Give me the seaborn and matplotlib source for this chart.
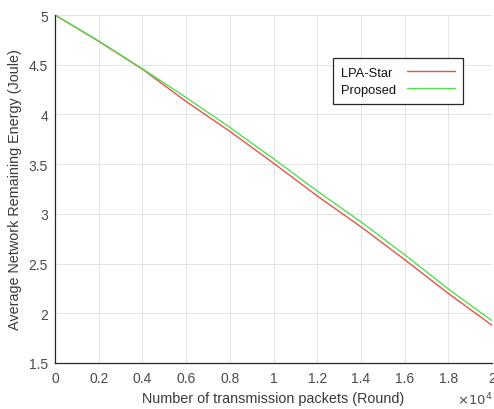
import matplotlib
matplotlib.use("Agg")
import matplotlib.pyplot as plt
import seaborn as sns
import pandas as pd
from matplotlib.ticker import FuncFormatter, MultipleLocator

rounds = [0, 2000, 4000, 6000, 8000, 10000, 12000, 14000, 16000, 18000, 20000]
lpa_star = [5.00, 4.735, 4.455, 4.13, 3.83, 3.51, 3.18, 2.87, 2.54, 2.20, 1.88]
proposed = [5.00, 4.74, 4.46, 4.17, 3.87, 3.555, 3.23, 2.92, 2.59, 2.245, 1.925]
series_names = ["LPA-Star", "Proposed"]
series_colors = ["#e2544c", "#52e052"]

df = pd.DataFrame({
    "Round": rounds * 2,
    "Energy": lpa_star + proposed,
    "Method": [series_names[0]] * len(rounds) + [series_names[1]] * len(rounds),
})

sns.set_theme(style="whitegrid")
plt.rcParams["font.family"] = ["Liberation Sans", "DejaVu Sans"]

fig = plt.figure(figsize=(4.94, 4.10), dpi=100)
ax = fig.add_axes([55 / 494, 1 - 364 / 410, (492 - 55) / 494, (364 - 16) / 410])

sns.lineplot(data=df, x="Round", y="Energy", hue="Method",
             palette=dict(zip(series_names, series_colors)),
             linewidth=1.0, ax=ax, legend=True)

ax.set_xlim(0, 20000)
ax.set_ylim(1.5, 5)
ax.xaxis.set_major_locator(MultipleLocator(2000))
ax.yaxis.set_major_locator(MultipleLocator(0.5))
ax.xaxis.set_major_formatter(FuncFormatter(lambda v, p: f"{v / 1e4:g}"))
ax.yaxis.set_major_formatter(FuncFormatter(lambda v, p: f"{v:g}"))

ax.grid(True, color="#e3e3e3", linewidth=0.7)
ax.set_facecolor("white")
for s in ["top", "right"]:
    ax.spines[s].set_visible(False)
for s in ["left", "bottom"]:
    ax.spines[s].set_visible(True)
    ax.spines[s].set_color("#262626")
    ax.spines[s].set_linewidth(0.9)

ax.tick_params(axis="x", direction="in", length=4, width=0.8,
               colors="#262626", labelcolor="#4a4a4a", labelsize=10, pad=6)
ax.tick_params(axis="y", direction="in", length=4, width=0.8,
               colors="#262626", labelcolor="#4a4a4a", labelsize=10, pad=5)

ax.set_xlabel("Number of transmission packets (Round)", fontsize=10.4,
              color="#3a3a3a")
ax.set_ylabel("Average Network Remaining Energy (Joule)", fontsize=10.4,
              color="#3a3a3a", labelpad=5)
ax.xaxis.set_label_coords(0.5, -0.081)

ax.text(1.0, -0.1034, r"$\times10^{4}$", transform=ax.transAxes,
        ha="right", va="center", fontsize=9.5, color="#4a4a4a")

leg = ax.legend(loc="upper right", bbox_to_anchor=(0.934, 0.876),
                markerfirst=False, frameon=True, fancybox=False,
                handlelength=3.7, fontsize=9.3, borderpad=0.65,
                labelspacing=0.4, handletextpad=0.85, borderaxespad=0)
leg.get_frame().set_edgecolor("#262626")
leg.get_frame().set_linewidth(0.9)
leg.get_frame().set_alpha(1)
for t in leg.get_texts():
    t.set_color("#111111")

# left-align the legend texts (text first, line sample on the right)
fig.canvas.draw()
renderer = fig.canvas.get_renderer()
widths = [t.get_window_extent(renderer).width for t in leg.get_texts()]
maxw = max(widths)
rows = [r for col in leg._legend_handle_box.get_children() for r in col.get_children()]
for row, w in zip(rows, widths):
    row.sep += (maxw - w) * 72.0 / fig.dpi

fig.savefig("out.png", dpi=100, facecolor="white")
